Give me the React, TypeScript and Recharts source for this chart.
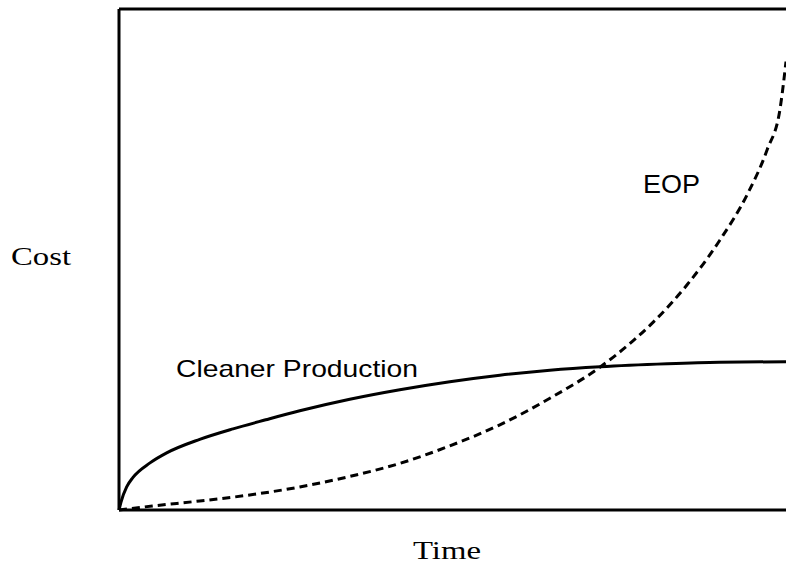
import React from 'react';
import {
  LineChart,
  Line,
  XAxis,
  YAxis,
  ReferenceLine,
  ReferenceDot
} from 'recharts';

// cleaner production: fast rise, then flattens out
const cpTime = [0, 0.3, 1.15, 2.1, 4.65, 7.15, 12.1, 17.1, 22, 27.1, 34.6, 42.1, 49.6, 57.1, 64.6, 72.1, 82.2, 90, 100];
const cpCost = [0, 1.6, 4.6, 6.5, 9.4, 11.4, 14.1, 16.2, 18.0, 19.8, 22.1, 24.0, 25.6, 26.9, 27.9, 28.6, 29.2, 29.5, 29.6];

// end-of-pipe: slow start, then explodes
const eopTime = [0, 5, 12.1, 19.6, 27.1, 34.6, 42.1, 49.6, 57.1, 64.6, 72.1, 77.1, 80.1, 85.2, 90.1, 94.2, 97.2, 99.1, 100];
const eopCost = [0, 0.8, 1.8, 3.0, 4.6, 6.7, 9.3, 12.8, 17.0, 22.3, 28.5, 33.8, 37.5, 45.0, 53.9, 63.0, 72.0, 80.0, 89.5];

const cpData = cpTime.map((t, i) => ({ t, cost: cpCost[i] }));
const eopData = eopTime.map((t, i) => ({ t, cost: eopCost[i] }));

const SERIF = '"Liberation Serif", "Times New Roman", serif';
const SANS = '"Liberation Sans", Arial, sans-serif';

// the scan is stretched sideways, so text gets squeezed to a fixed length
const stretched = (text: string, font: string, size: number, len: number, dx: number, dy: number, fromCenter = false) =>
  ({ viewBox }: any) => {
    const x0 = fromCenter ? viewBox.x + (viewBox.width || 0) / 2 : viewBox.x;
    const y0 = fromCenter ? viewBox.y + (viewBox.height || 0) / 2 : viewBox.y;
    return (
      <text
        x={x0 + dx}
        y={y0 + dy}
        fontFamily={font}
        fontSize={size}
        fill="#000"
        textLength={len}
        lengthAdjust="spacingAndGlyphs"
      >
        {text}
      </text>
    );
  };

const App: React.FC = () => {
  return (
    <div style={{ position: 'absolute', left: 0, top: 0, width: 786, height: 567, overflow: 'hidden', background: '#fff' }}>
      <LineChart
        width={786}
        height={567}
        margin={{ top: 9, right: 0, bottom: 56, left: 118 }}
        accessibilityLayer={false}
      >
        <XAxis
          type="number"
          dataKey="t"
          domain={[0, 100]}
          height={1}
          tick={false}
          tickLine={false}
          axisLine={{ stroke: '#000', strokeWidth: 3 }}
          label={{ content: stretched('Time', SERIF, 26, 68, 294, 49) }}
        />
        <YAxis
          type="number"
          domain={[0, 100]}
          width={1}
          tick={false}
          tickLine={false}
          axisLine={{ stroke: '#000', strokeWidth: 3 }}
          label={{ content: stretched('Cost', SERIF, 26, 60, -107, 256) }}
        />

        {/* top of the frame, no right edge */}
        <ReferenceLine y={100} stroke="#000" strokeWidth={3} />

        <Line
          data={cpData}
          dataKey="cost"
          type="monotone"
          stroke="#000"
          strokeWidth={3}
          dot={false}
          isAnimationActive={false}
        />
        <Line
          data={eopData}
          dataKey="cost"
          type="monotone"
          stroke="#000"
          strokeWidth={3}
          strokeDasharray="8 5"
          dot={false}
          isAnimationActive={false}
        />

        <ReferenceDot
          x={8.55}
          y={26.55}
          r={1}
          fill="none"
          stroke="none"
          label={{ content: stretched('Cleaner Production', SANS, 24, 242, 0, 0, true) }}
        />
        <ReferenceDot
          x={78.56}
          y={63.3}
          r={1}
          fill="none"
          stroke="none"
          label={{ content: stretched('EOP', SANS, 26, 57, 0, 0, true) }}
        />
      </LineChart>
    </div>
  );
};

export default App;
